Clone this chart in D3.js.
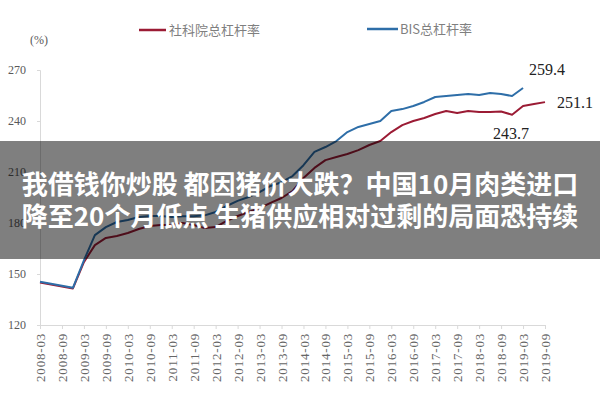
<!DOCTYPE html>
<html><head><meta charset="utf-8">
<script src="https://cdn.jsdelivr.net/npm/d3@7"></script>
<style>
html,body{margin:0;padding:0;background:#fff;}
svg{display:block;}
</style>
</head><body>
<svg id="chart" width="600" height="400"></svg>
<script>
const quarters = ["2008-03","2008-06","2008-09","2008-12","2009-03","2009-06","2009-09","2009-12",
"2010-03","2010-06","2010-09","2010-12","2011-03","2011-06","2011-09","2011-12",
"2012-03","2012-06","2012-09","2012-12","2013-03","2013-06","2013-09","2013-12",
"2014-03","2014-06","2014-09","2014-12","2015-03","2015-06","2015-09","2015-12",
"2016-03","2016-06","2016-09","2016-12","2017-03","2017-06","2017-09","2017-12",
"2018-03","2018-06","2018-09","2018-12","2019-03","2019-06","2019-09"];
const xTickLabels = ["2008-03","2008-09","2009-03","2009-09","2010-03","2010-09","2011-03","2011-09",
"2012-03","2012-09","2013-03","2013-09","2014-03","2014-09","2015-03","2015-09",
"2016-03","2016-09","2017-03","2017-09","2018-03","2018-09","2019-03","2019-09"];
const yTicks = [120,150,180,210,240,270];
const seriesNames = ["社科院总杠杆率","BIS总杠杆率"];
const cassValues = [145.0,null,null,141.5,157.0,167.0,171.2,172.4,
174.1,176.5,178.2,178.8,178.8,180.0,178.8,177.0,
177.6,181.2,184.1,186.5,188.8,191.8,194.7,198.8,
206.5,212.4,217.0,218.8,220.6,222.9,225.9,228.2,
233.5,237.6,240.0,241.8,244.1,245.9,244.7,245.9,
245.3,245.3,245.6,243.7,248.8,250.0,251.1];
const bisValues = [145.5,null,null,141.9,158.0,172.9,177.6,180.6,
181.8,183.5,184.1,184.1,183.5,184.0,184.0,184.5,
186.5,190.0,193.0,195.3,198.2,201.8,204.0,207.6,
214.0,221.8,224.7,228.2,233.5,236.5,238.2,240.0,
245.9,247.0,248.8,251.2,254.1,254.7,255.3,255.9,
255.3,256.5,255.9,254.7,259.4,null,null];
const annotations = [
  {q:"2019-03", v:259.4, label:"259.4"},
  {q:"2019-09", v:251.1, label:"251.1"},
  {q:"2018-12", v:243.7, label:"243.7"}
];
const headline = ["我借钱你炒股 都因猪价大跌？中国10月肉类进口","降至20个月低点 生猪供应相对过剩的局面恐持续"];

const colors = ["#9b1b34","#2e6ea8"];
const svg = d3.select("#chart");
const serif = "'Liberation Serif','DejaVu Serif',serif";
const cjk = "'Noto Sans CJK SC',sans-serif";

const x = d3.scalePoint().domain(quarters).range([40,545]);
const y = d3.scaleLinear().domain([120,270]).range([325,70]);

// y axis
const ya = svg.append("g").attr("transform","translate(40,0)")
  .call(d3.axisLeft(y).tickValues(yTicks).tickSize(3).tickPadding(11));
ya.select(".domain").attr("stroke","#d9d9d9");
ya.selectAll(".tick line").attr("stroke","#d9d9d9");
ya.selectAll(".tick text").attr("font-family",serif).attr("font-size",12).attr("fill","#595959");

// x axis
const xa = svg.append("g").attr("transform","translate(0,325)")
  .call(d3.axisBottom(x).tickValues(xTickLabels).tickSize(4).tickSizeOuter(0));
xa.select(".domain").attr("stroke","#d9d9d9");
xa.selectAll(".tick line").attr("stroke","#d9d9d9");
xa.selectAll(".tick text")
  .attr("font-family",serif).attr("font-size",13).attr("fill","#666")
  .attr("letter-spacing","0.8px")
  .attr("transform","rotate(-90)")
  .attr("text-anchor","end").attr("x",-8).attr("y",0).attr("dy","0.35em");

// unit
svg.append("text").attr("x",30).attr("y",44).attr("font-family",serif).attr("font-size",12)
  .attr("fill","#595959").text("(%)");

// lines
const line = d3.line().x(d=>x(d.q)).y(d=>y(d.v));
[cassValues,bisValues].forEach((vals,i)=>{
  const pts = quarters.map((q,j)=>({q,v:vals[j]})).filter(d=>d.v!==null);
  svg.append("path").datum(pts).attr("d",line).attr("fill","none")
    .attr("stroke",colors[i]).attr("stroke-width",2).attr("stroke-linejoin","round");
});

// legend
const legendPos = [{x:139,y:30},{x:367,y:29}];
seriesNames.forEach((n,i)=>{
  const g = svg.append("g").attr("transform",`translate(${legendPos[i].x},${legendPos[i].y})`);
  g.append("line").attr("x1",0).attr("x2",i===0?27:31).attr("y1",0).attr("y2",0)
    .attr("stroke",colors[i]).attr("stroke-width",2.5);
  g.append("text").attr("x",i===0?30:33).attr("y",0).attr("dy","0.35em")
    .attr("font-family",cjk).attr("font-size",13).attr("fill","#7f7f7f").text(n);
});

// annotations
const annOffset = [{dx:6,dy:-19},{dx:12,dy:0},{dx:-19,dy:19}];
annotations.forEach((a,i)=>{
  svg.append("text").attr("x",x(a.q)+annOffset[i].dx).attr("y",y(a.v)+annOffset[i].dy)
    .attr("dy","0.35em").attr("font-family",serif).attr("font-size",16).attr("fill","#222")
    .text(a.label);
});

// overlay band with headline
svg.append("rect").attr("x",0).attr("y",141).attr("width",600).attr("height",118)
  .attr("fill","rgba(0,0,0,0.5)");
headline.forEach((t,i)=>{
  svg.append("text").attr("x",300).attr("y",185+i*32).attr("dy","0.35em")
    .attr("text-anchor","middle").attr("font-family",cjk).attr("font-weight","bold")
    .attr("font-size",26).attr("fill","#fff").text(t);
});
</script>
</body></html>
